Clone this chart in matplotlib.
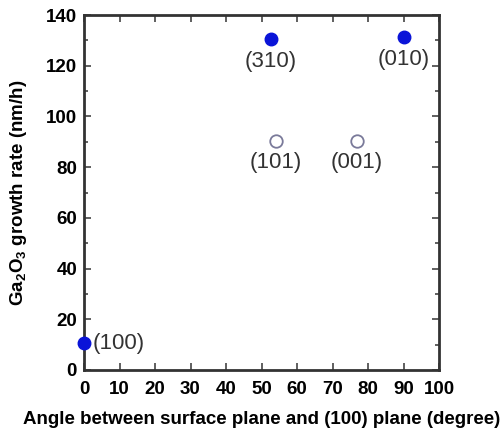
import matplotlib
matplotlib.use("Agg")
import matplotlib.pyplot as plt
from matplotlib.ticker import MultipleLocator

plt.rcParams['font.family'] = ['Liberation Sans', 'DejaVu Sans']
plt.rcParams['mathtext.fontset'] = 'custom'
plt.rcParams['mathtext.rm'] = 'Liberation Sans:bold'
plt.rcParams['mathtext.bf'] = 'Liberation Sans:bold'

# data
filled_angle = [0, 52.6, 90.1]
filled_rate = [10.5, 130.5, 131.3]
filled_labels = ["(100)", "(310)", "(010)"]
open_angle = [54.1, 76.8]
open_rate = [90.4, 90.4]
open_labels = ["(101)", "(001)"]

fig = plt.figure(figsize=(5.04, 4.30), dpi=100)
ax = fig.add_axes([84/504, 1-370/430, (439-84)/504, (370-15)/430])

ax.plot(filled_angle, filled_rate, 'o', color='#0a14d8', markersize=9,
        linestyle='none', clip_on=False, zorder=5)
ax.plot(open_angle, open_rate, 'o', markerfacecolor='white',
        markeredgecolor='#7a7a9a', markeredgewidth=1.3, markersize=9,
        linestyle='none', clip_on=False, zorder=5)

txt_color = '#333333'
fs = 16
# (100) to the right of its point
ax.annotate(filled_labels[0], (filled_angle[0], filled_rate[0]), xytext=(6, 0),
            textcoords='offset points', ha='left', va='center', fontsize=fs, color=txt_color)
for x, y, s in zip(filled_angle[1:], filled_rate[1:], filled_labels[1:]):
    ax.annotate(s, (x, y), xytext=(0, -16), textcoords='offset points',
                ha='center', va='center', fontsize=fs, color=txt_color)
for x, y, s in zip(open_angle, open_rate, open_labels):
    ax.annotate(s, (x, y), xytext=(0, -16), textcoords='offset points',
                ha='center', va='center', fontsize=fs, color=txt_color)

ax.set_xlim(0, 100)
ax.set_ylim(0, 140)
ax.xaxis.set_major_locator(MultipleLocator(10))
ax.yaxis.set_major_locator(MultipleLocator(20))
ax.yaxis.set_minor_locator(MultipleLocator(10))
ax.tick_params(which='both', direction='in', top=True, right=True, width=1.2, color='#444444')
ax.tick_params(which='major', length=5, labelsize=13.5)
ax.tick_params(axis='x', which='major', pad=8)
ax.tick_params(axis='y', which='major', pad=5)
ax.tick_params(which='minor', length=3)
for lab in ax.get_xticklabels() + ax.get_yticklabels():
    lab.set_fontweight('bold')
for sp in ax.spines.values():
    sp.set_linewidth(2)
    sp.set_color('#333333')

ax.set_xlabel('Angle between surface plane and (100) plane (degree)',
              fontsize=13.5, fontweight='bold', labelpad=9)
ax.set_ylabel(r'Ga$_2$O$_3$ growth rate (nm/h)', fontsize=13.5, fontweight='bold', labelpad=12)

fig.savefig('out.png', dpi=100)
